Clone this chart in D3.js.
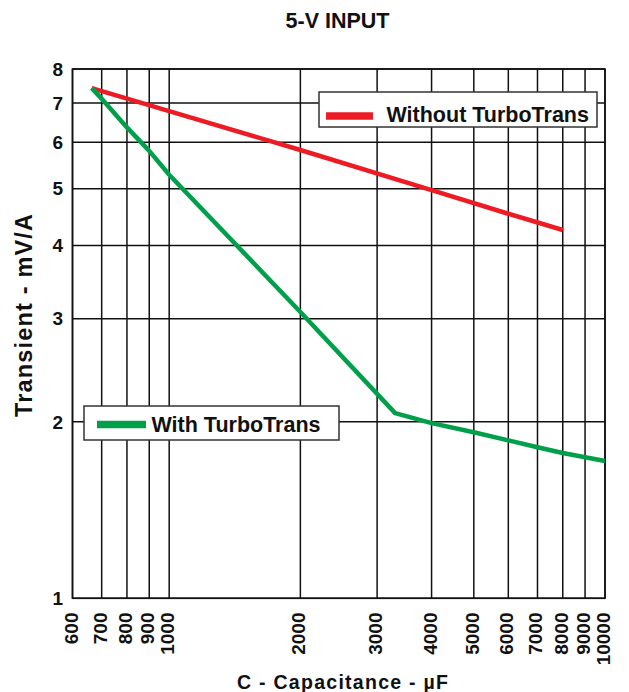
<!DOCTYPE html>
<html><head><meta charset="utf-8">
<script src="https://cdn.jsdelivr.net/npm/d3@7"></script>
<style>
html,body{margin:0;padding:0;background:#fff;}
svg{display:block;font-family:"Liberation Sans",Arial,sans-serif;font-weight:bold;}
</style></head>
<body><svg id="chart" width="629" height="692"></svg>
<script>
const title = "5-V INPUT";
const xLabel = "C - Capacitance - \u00b5F";
const yLabel = "Transient - mV/A";
const xTicks = [600,700,800,900,1000,2000,3000,4000,5000,6000,7000,8000,9000,10000];
const yTicks = [1,2,3,4,5,6,7,8];
const seriesNames = ["Without TurboTrans","With TurboTrans"];
const withoutCap = [664,1000,2000,4000,6000,8000];
const withoutVal = [7.42,6.78,5.82,4.97,4.53,4.25];
const withCap = [664,700,800,900,1000,2000,3300,4000,5000,6000,7000,8000,10000];
const withVal = [7.42,7.12,6.36,5.80,5.28,3.08,2.07,1.99,1.92,1.86,1.81,1.77,1.715];

const svg = d3.select("#chart");
const L=72.5, R=605, T=69, B=598.3;
const x = d3.scaleLog().domain([600,10000]).range([L,R]);
const y = d3.scaleLog().domain([1,8]).range([B,T]);

// grid
const g = svg.append("g");
g.selectAll("line.v").data(xTicks).join("line")
  .attr("x1",d=>x(d)).attr("x2",d=>x(d)).attr("y1",T).attr("y2",B)
  .attr("stroke","#111").attr("stroke-width",1.5);
g.selectAll("line.h").data(yTicks).join("line")
  .attr("y1",d=>y(d)).attr("y2",d=>y(d)).attr("x1",L).attr("x2",R)
  .attr("stroke","#111").attr("stroke-width",1.5);
g.append("rect").attr("x",L).attr("y",T).attr("width",R-L).attr("height",B-T)
  .attr("fill","none").attr("stroke","#111").attr("stroke-width",1.6);

// y tick labels
svg.selectAll("text.yt").data(yTicks).join("text")
  .attr("x",63).attr("y",d=>y(d)+6.7).attr("text-anchor","end")
  .attr("font-size",19).attr("fill","#111").text(d=>d);
// x tick labels
svg.selectAll("text.xt").data(xTicks).join("text")
  .attr("transform",d=>`translate(${x(d)+5},612.5) rotate(-90)`)
  .attr("text-anchor","end").attr("font-size",19).attr("fill","#111").text(d=>d);

// lines
const line = d3.line().x(d=>x(d[0])).y(d=>y(d[1]));
svg.append("path").datum(d3.zip(withoutCap,withoutVal)).attr("d",line)
  .attr("fill","none").attr("stroke","#ED1C24").attr("stroke-width",4.5);
svg.append("path").datum(d3.zip(withCap,withVal)).attr("d",line)
  .attr("fill","none").attr("stroke","#00A04A").attr("stroke-width",4.5).attr("stroke-linejoin","round");

// legends
function legend(bx,by,bw,bh,color,sx1,sx2,sy,tx,ty,label){
  svg.append("rect").attr("x",bx).attr("y",by).attr("width",bw).attr("height",bh)
    .attr("fill","#fff").attr("stroke","#333").attr("stroke-width",1.5);
  svg.append("line").attr("x1",sx1).attr("x2",sx2).attr("y1",sy).attr("y2",sy)
    .attr("stroke",color).attr("stroke-width",7.5);
  svg.append("text").attr("x",tx).attr("y",ty).attr("font-size",21.5).attr("fill","#111").text(label);
}
legend(319,92,278,35,"#ED1C24",326,373,116,386.5,122.3,seriesNames[0]);
legend(84,406,255,34,"#00A04A",97,146,424.5,151.5,431.7,seriesNames[1]);

// titles
svg.append("text").attr("x",337.5).attr("y",28.3).attr("text-anchor","middle")
  .attr("font-size",21.5).attr("fill","#111").text(title);
svg.append("text").attr("x",237).attr("y",689.3).attr("font-size",19.5)
  .attr("textLength",211).attr("lengthAdjust","spacing").attr("fill","#111").text(xLabel);
svg.append("text").attr("transform","translate(32,417) rotate(-90)")
  .attr("font-size",23.5).attr("textLength",203).attr("lengthAdjust","spacing")
  .attr("fill","#111").text(yLabel);
</script></body></html>
